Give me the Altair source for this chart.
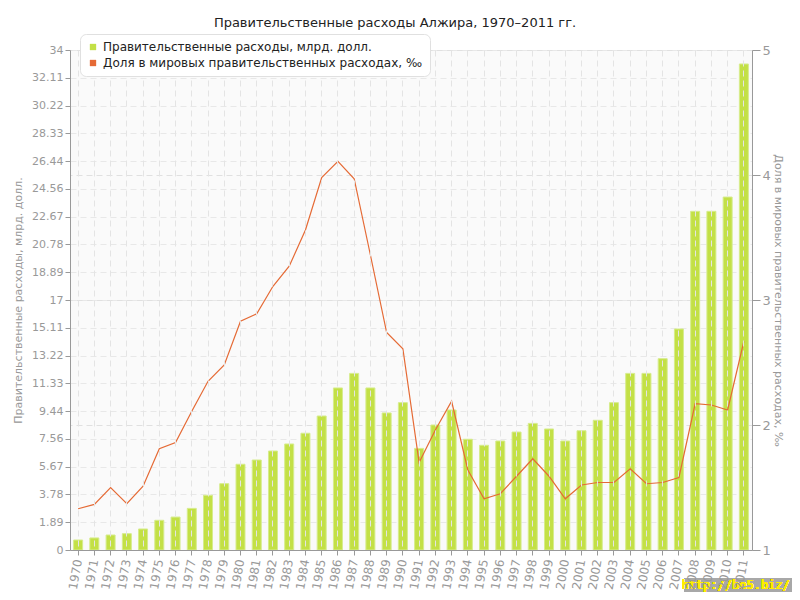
import altair as alt
import pandas as pd

years = [str(y) for y in range(1970, 2012)]
spending = [0.68, 0.82, 1.02, 1.11, 1.43, 2.02, 2.24, 2.83, 3.72, 4.51,
            5.83, 6.12, 6.73, 7.21, 7.94, 9.11, 11.02, 12.01, 11.02, 9.32,
            10.02, 6.91, 8.50, 9.52, 7.53, 7.12, 7.41, 8.02, 8.61, 8.23,
            7.41, 8.11, 8.82, 10.02, 12.01, 12.01, 13.01, 15.03, 23.03, 23.03,
            24.00, 33.05]
share = [1.33, 1.365, 1.50, 1.37, 1.51, 1.81, 1.86, 2.11, 2.35, 2.48,
         2.83, 2.89, 3.11, 3.27, 3.56, 3.98, 4.11, 3.97, 3.36, 2.74,
         2.61, 1.70, 1.96, 2.19, 1.64, 1.41, 1.45, 1.59, 1.73, 1.59,
         1.41, 1.52, 1.54, 1.54, 1.65, 1.53, 1.54, 1.58, 2.17, 2.16,
         2.12, 2.67]
left_ticks = [0, 1.89, 3.78, 5.67, 7.56, 9.44, 11.33, 13.22, 15.11, 17,
              18.89, 20.78, 22.67, 24.56, 26.44, 28.33, 30.22, 32.11, 34]
right_ticks = [1, 2, 3, 4, 5]

S1 = "Правительственные расходы, млрд. долл."
S2 = "Доля в мировых правительственных расходах, ‰"
TITLE = "Правительственные расходы Алжира, 1970–2011 гг."

df = pd.DataFrame({"year": years, "spending": spending, "share": share, "series": S1})

FONT = "DejaVu Sans"
GREEN = "#c3e046"
ORANGE = "#e56a35"

x = alt.X("year:N", title=None,
          scale=alt.Scale(paddingInner=0, paddingOuter=0),
          axis=alt.Axis(labelAngle=280, labelAlign="right", labelBaseline="middle",
                        labelColor="#999999", labelFontSize=12, labelFont=FONT,
                        labelPadding=4, tickColor="#999999", tickSize=5,
                        domainColor="#999999", grid=True, gridColor="#e4e4e4",
                        gridDash=[6, 4], zindex=1))

bars = alt.Chart(df).mark_bar(size=9, stroke="#d6ec8c", strokeWidth=1).encode(
    x=x,
    y=alt.Y("spending:Q", title=S1,
            scale=alt.Scale(domain=[0, 34], nice=False, zero=True),
            axis=alt.Axis(values=left_ticks, format=".2~f", labelColor="#999999",
                          labelFont=FONT, labelFontSize=11, tickColor="#999999",
                          domainColor="#999999", tickSize=5,
                          titleColor="#999999", titleFont=FONT, titleFontSize=11,
                          titleFontWeight="normal", titlePadding=8,
                          grid=True, gridColor="#e8e8e8", gridDash=[6, 4])),
    color=alt.Color("series:N",
                    scale=alt.Scale(domain=[S1, S2], range=[GREEN, ORANGE]),
                    legend=alt.Legend(title=None, orient="none", legendX=10, legendY=-16,
                                      direction="vertical", symbolType="square",
                                      symbolSize=40, symbolStrokeWidth=0,
                                      labelFont=FONT, labelFontSize=12, labelColor="#222222",
                                      labelLimit=400, rowPadding=4, zindex=5,
                                      fillColor="white", strokeColor="#e0e0e0",
                                      cornerRadius=6, padding=7)),
)

line = alt.Chart(df).mark_line(color=ORANGE, strokeWidth=1.2).encode(
    x=x,
    y=alt.Y("share:Q", title=S2,
            scale=alt.Scale(domain=[1, 5], nice=False, zero=False),
            axis=alt.Axis(orient="right", values=right_ticks, labelColor="#999999",
                          labelFont=FONT, labelFontSize=13, tickColor="#999999",
                          domainColor="#999999", tickSize=8,
                          titleColor="#999999", titleFont=FONT, titleFontSize=11,
                          titleFontWeight="normal", titlePadding=2,
                          grid=True, gridColor="#e0e0e0", gridDash=[6, 4])),
)

wm_rect = alt.Chart(df).mark_rect(color="#a8a8a8").encode(
    x=alt.value(614), x2=alt.value(722), y=alt.value(528), y2=alt.value(542))
wm_text = alt.Chart(df).mark_text(text="http://be5.biz/", color="#ffee00", font="DejaVu Sans Mono",
                                  fontSize=12, align="right", baseline="middle").encode(
    x=alt.value(720), y=alt.value(535))

chart = alt.layer(bars, line, wm_rect, wm_text).resolve_scale(y="independent").properties(
    width=682, height=500,
    autosize=alt.AutoSizeParams(type="none"),
    padding={"left": 62, "top": 42, "right": 40, "bottom": 42},
    title=alt.TitleParams(TITLE, font=FONT, fontSize=13, fontWeight="normal",
                          color="#222222", anchor="middle", offset=4, dx=-16),
).configure_view(fill="#fafafa", stroke=None)

chart.save("out.html", embed_options={"renderer": "svg", "actions": False})
